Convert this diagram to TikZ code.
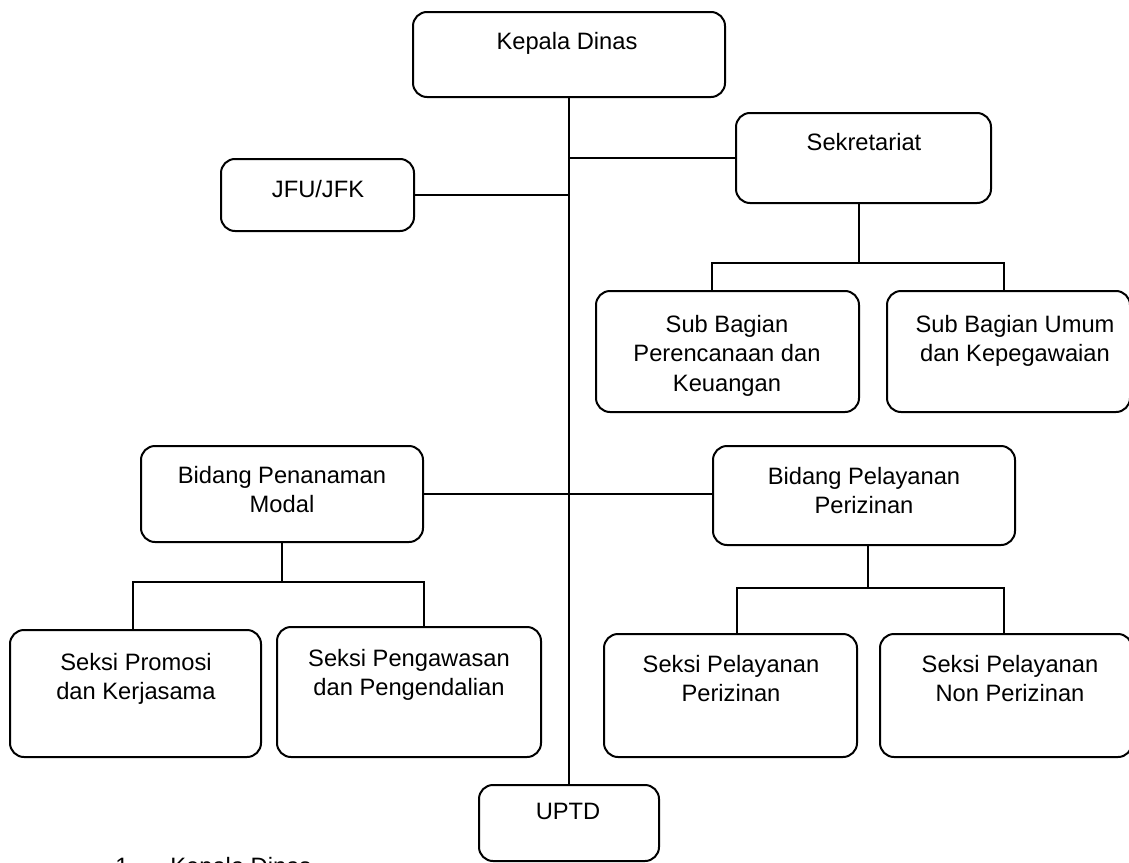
\documentclass[tikz,border=0pt]{standalone}
\usepackage{fontspec}
\setmainfont{Liberation Sans}
\begin{document}
\begin{tikzpicture}[x=0.5pt,y=-0.5pt,
  box/.style={draw=black, line width=1pt, rounded corners=7pt, inner sep=0pt},
  sz/.style 2 args={minimum width=#1*0.5pt, minimum height=#2*0.5pt},
  txt/.style={anchor=north, inner sep=0pt, align=center, font=\fontsize{11.85}{14.7}\selectfont},
  ln/.style={line width=1pt}]
\useasboundingbox (0,0) rectangle (1129,862);
\clip (0,0) rectangle (1129,862);
% boxes (center x, center y)
\node[box, sz={312}{85}] (kd) at (569,54.5) {};
\node[box, sz={255}{90}] (sek) at (863.5,158) {};
\node[box, sz={193}{72}] (jfu) at (317.5,195) {};
\node[box, sz={263}{121}] (sbp) at (727.5,351.5) {};
\node[box, sz={243}{121}] (sbu) at (1008.5,351.5) {};
\node[box, sz={282}{96}] (bpm) at (282,494) {};
\node[box, sz={302}{99}] (bpp) at (864,495.5) {};
\node[box, sz={251}{127}] (spk) at (135.5,693.5) {};
\node[box, sz={264}{130}] (spp) at (409,692) {};
\node[box, sz={253}{123}] (spl) at (730.5,695.5) {};
\node[box, sz={252}{123}] (snp) at (1006,695.5) {};
\node[box, sz={180}{76}] (uptd) at (569,823) {};
% texts
\node[txt] (tkd) at (567,32) {Kepala Dinas};
\node[txt] (tsek) at (864,133) {Sekretariat};
\node[txt] (tjfu) at (318,180) {JFU/JFK};
\node[txt] (tsbp) at (727,315) {Sub Bagian\\Perencanaan dan\\Keuangan};
\node[txt] (tsbu) at (1015,315) {Sub Bagian Umum\\dan Kepegawaian};
\node[txt] (tbpm) at (282,466) {Bidang Penanaman\\Modal};
\node[txt] (tbpp) at (864,467) {Bidang Pelayanan\\Perizinan};
\node[txt] (tspk) at (136,653) {Seksi Promosi\\dan Kerjasama};
\node[txt] (tspp) at (409,649) {Seksi Pengawasan\\dan Pengendalian};
\node[txt] (tspl) at (731,655) {Seksi Pelayanan\\Perizinan};
\node[txt] (tsnp) at (1010,655) {Seksi Pelayanan\\Non Perizinan};
\node[txt] (tuptd) at (568,803) {UPTD};
\node[txt, anchor=base west] (n1) at (115,874) {1.};
\node[txt, anchor=base west] (n2) at (170,874) {Kepala Dinas};
% junction coordinates
\coordinate (s0) at (859,263);
\coordinate (s1) at (712,263);
\coordinate (s2) at (1004,263);
\coordinate (p0) at (282,582);
\coordinate (p1) at (133,582);
\coordinate (p2) at (424,582);
\coordinate (q0) at (868,588);
\coordinate (q1) at (737,588);
\coordinate (q2) at (1004,588);
% connectors
\draw[ln] (kd.south) -- (uptd.north);
\draw[ln] (sek.west) -- (sek.west -| kd.south);
\draw[ln] (jfu.east) -- (jfu.east -| kd.south);
\draw[ln] (sek.south -| s0) -- (s0);
\draw[ln] (sbp.north -| s1) -- (s1) -- (s2) -- (sbu.north -| s2);
\draw[ln] (bpm.east) -- (bpm.east -| bpp.west);
\draw[ln] (bpm.south -| p0) -- (p0);
\draw[ln] (spk.north -| p1) -- (p1) -- (p2) -- (spp.north -| p2);
\draw[ln] (bpp.south -| q0) -- (q0);
\draw[ln] (spl.north -| q1) -- (q1) -- (q2) -- (snp.north -| q2);
\end{tikzpicture}
\end{document}
